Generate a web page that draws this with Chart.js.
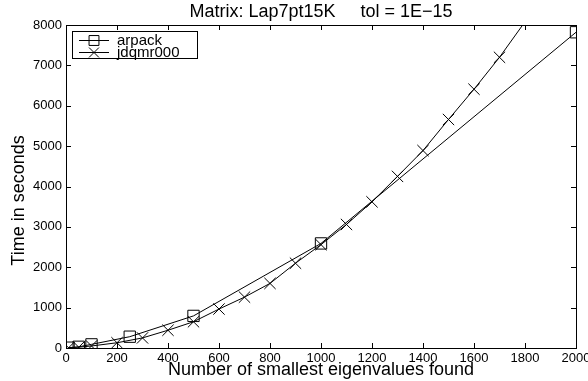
<!DOCTYPE html>
<html>
<head>
<meta charset="utf-8">
<script src="https://cdn.jsdelivr.net/npm/chart.js@4.4.0/dist/chart.umd.min.js"></script>
<style>
  html, body { margin: 0; padding: 0; background: #fff; }
  #wrap { width: 588px; height: 381px; }
</style>
</head>
<body>
<div id="wrap"><canvas id="timing"></canvas></div>
<script>
// number of eigenvalues requested -> wall time in seconds
const arpackCounts = [10, 50, 100, 250, 500, 1000, 2000];
const arpackTimes  = [8, 30, 90, 280, 795, 2590, 7820];

const jdqmrCounts = [10, 50, 100, 200, 300, 400, 500, 600, 700, 800, 900,
                     1000, 1100, 1200, 1300, 1400, 1500, 1600, 1700, 1800];
const jdqmrTimes  = [5, 20, 50, 130, 250, 440, 650, 965, 1260, 1600, 2100,
                     2560, 3060, 3620, 4250, 4890, 5660, 6410, 7200, 8080];

const seriesNames = ['arpack', 'jdqmr000'];
const seriesMarkers = ['rect', 'crossRot'];

// axis limits and tick spacing
const xLimits = [0, 2000], xStep = 200;
const yLimits = [0, 8000], yStep = 1000;

const titleText = 'Matrix: Lap7pt15K     tol = 1E\u221215';
const xLabel = 'Number of smallest eigenvalues found';
const yLabel = 'Time in seconds';

const fontStack = "'Liberation Sans', Arial, Helvetica, sans-serif";
Chart.defaults.font.family = fontStack;
Chart.defaults.color = '#000';

function toPoints(xs, ys) {
  return xs.map((x, i) => ({ x: x, y: ys[i] }));
}

// markers whose centre leaves the axes are not drawn, the line still is (clipped)
function markerRadius(ctx) {
  const p = ctx.raw;
  if (!p) return 8;
  return (p.y > yLimits[1] || p.x > xLimits[1]) ? 0 : 8;
}

// box around the axes with inward ticks on all four sides, plus the y label
const axesBox = {
  id: 'axesBox',
  afterDatasetsDraw(chart) {
    const { ctx, chartArea: a, scales: { x, y } } = chart;
    const len = 5;
    ctx.save();
    ctx.strokeStyle = '#000';
    ctx.lineWidth = 1;
    ctx.beginPath();
    x.ticks.forEach(t => {
      const px = Math.round(x.getPixelForValue(t.value)) + 0.5;
      ctx.moveTo(px, a.bottom); ctx.lineTo(px, a.bottom - len);
      ctx.moveTo(px, a.top); ctx.lineTo(px, a.top + len);
    });
    y.ticks.forEach(t => {
      const py = Math.round(y.getPixelForValue(t.value)) + 0.5;
      ctx.moveTo(a.left, py); ctx.lineTo(a.left + len, py);
      ctx.moveTo(a.right, py); ctx.lineTo(a.right - len, py);
    });
    ctx.stroke();
    ctx.strokeRect(Math.round(a.left) + 0.5, Math.round(a.top) + 0.5,
                   Math.round(a.width), Math.round(a.height));

    // y axis label, sits a little below the middle of the axis
    ctx.translate(19, a.top + a.height / 2 + 14);
    ctx.rotate(-Math.PI / 2);
    ctx.font = '18px ' + fontStack;
    ctx.fillStyle = '#000';
    ctx.textAlign = 'center';
    ctx.textBaseline = 'middle';
    ctx.fillText(yLabel, 0, 0);
    ctx.restore();
  }
};

// legend in the upper left corner of the axes, line sample with marker
const boxLegend = {
  id: 'boxLegend',
  afterDraw(chart) {
    const { ctx, chartArea: a } = chart;
    const left = a.left + 6, top = a.top + 6;
    const w = 125, h = 27, rowH = 12;
    ctx.save();
    ctx.fillStyle = '#fff';
    ctx.fillRect(left, top, w, h);
    ctx.strokeStyle = '#000';
    ctx.lineWidth = 1;
    ctx.strokeRect(Math.round(left) + 0.5, Math.round(top) + 0.5, w, h);
    ctx.font = '15px ' + fontStack;
    ctx.textBaseline = 'middle';
    chart.data.datasets.forEach((ds, i) => {
      const cy = top + 9 + i * rowH;
      ctx.strokeStyle = '#000';
      ctx.beginPath();
      ctx.moveTo(left + 7, cy + 0.5);
      ctx.lineTo(left + 37, cy + 0.5);
      ctx.stroke();
      ctx.fillStyle = 'rgba(0,0,0,0)';
      Chart.helpers.drawPoint(ctx, {
        pointStyle: ds.pointStyle, radius: 7, rotation: 0, borderWidth: 1
      }, left + 22, cy + 0.5);
      ctx.fillStyle = '#000';
      ctx.fillText(ds.label, left + 45, cy + 1);
    });
    ctx.restore();
  }
};

const datasets = [
  { data: toPoints(arpackCounts, arpackTimes) },
  { data: toPoints(jdqmrCounts, jdqmrTimes) }
].map((d, i) => Object.assign(d, {
  label: seriesNames[i],
  showLine: true,
  borderColor: '#000',
  borderWidth: 1,
  pointStyle: seriesMarkers[i],
  pointRadius: markerRadius,
  pointHoverRadius: markerRadius,
  pointBorderColor: '#000',
  pointBackgroundColor: 'rgba(0,0,0,0)',
  pointBorderWidth: 1
}));

new Chart(document.getElementById('timing'), {
  type: 'scatter',
  data: { datasets: datasets },
  options: {
    responsive: true,
    maintainAspectRatio: false,
    animation: false,
    events: [],
    layout: { padding: { left: 0, right: 12, top: 0, bottom: 0 } },
    plugins: {
      legend: { display: false },
      tooltip: { enabled: false },
      title: {
        display: true,
        text: titleText,
        fullSize: false,
        color: '#000',
        font: { size: 18, weight: 'normal', lineHeight: 1 },
        padding: { top: 3, bottom: 4 }
      }
    },
    scales: {
      x: {
        type: 'linear',
        min: xLimits[0], max: xLimits[1],
        grid: { display: false, drawTicks: false },
        border: { display: false },
        ticks: {
          stepSize: xStep, padding: 3, maxRotation: 0, autoSkip: false,
          font: { size: 13 },
          callback: v => String(v)
        },
        title: {
          display: true, text: xLabel,
          font: { size: 18, lineHeight: 1 },
          padding: { top: 0, bottom: 2 }
        },
        afterFit(s) { s.height = 33; s.paddingLeft = 0; s.paddingRight = 0; }
      },
      y: {
        type: 'linear',
        min: yLimits[0], max: yLimits[1],
        grid: { display: false, drawTicks: false },
        border: { display: false },
        ticks: {
          stepSize: yStep, padding: 4,
          font: { size: 13 },
          callback: v => String(v)
        },
        afterFit(s) { s.width = 66; s.paddingTop = 0; s.paddingBottom = 0; }
      }
    }
  },
  plugins: [axesBox, boxLegend]
});
</script>
</body>
</html>
